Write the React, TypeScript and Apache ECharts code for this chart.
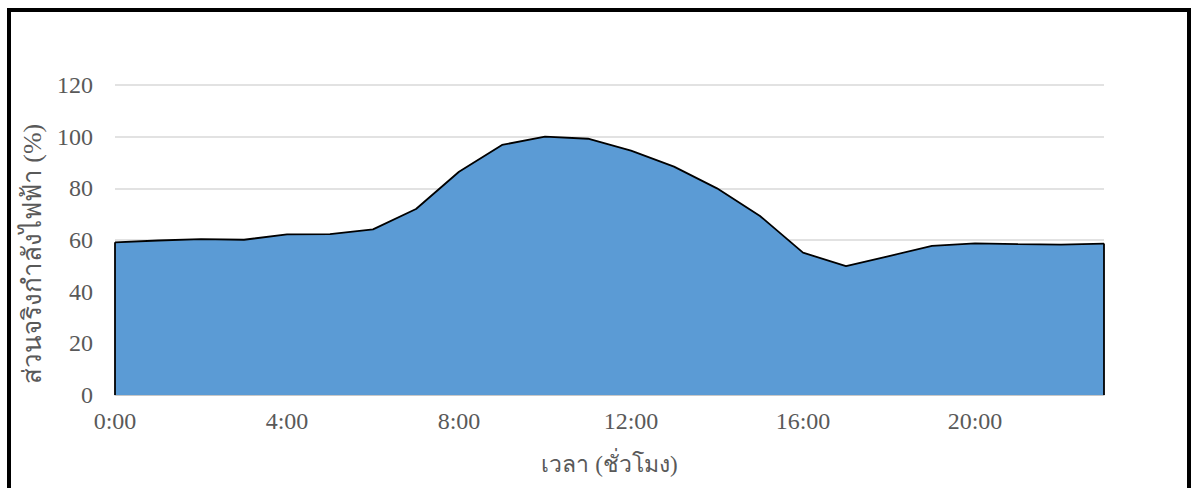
import React, { useEffect, useRef } from "react";
import * as echarts from "echarts";

// Hourly time labels along the x axis
const hours: string[] = [
  "0:00", "1:00", "2:00", "3:00", "4:00", "5:00", "6:00", "7:00",
  "8:00", "9:00", "10:00", "11:00", "12:00", "13:00", "14:00", "15:00",
  "16:00", "17:00", "18:00", "19:00", "20:00", "21:00", "22:00", "23:00",
];

// Real power share per hour (%)
const realPower: number[] = [
  59.1, 59.8, 60.3, 60.1, 62.2, 62.3, 64.1, 72.0,
  86.4, 96.8, 100.0, 99.2, 94.6, 88.4, 80.0, 69.3,
  55.1, 49.9, 53.8, 57.7, 58.7, 58.4, 58.2, 58.6,
];

const yTicks = { min: 0, max: 120, interval: 20 };

const xTitle = "เวลา (ชั่วโมง)";
const yTitle = "ส่วนจริงกำลังไฟฟ้า (%)";

const FONT = "'Liberation Serif', 'Times New Roman', serif";
const LABEL_COLOR = "#595959";

export default function App() {
  const ref = useRef<HTMLDivElement>(null);

  useEffect(() => {
    if (!ref.current) return;
    const chart = echarts.init(ref.current, undefined, { renderer: "svg" });
    const last = realPower.length - 1;

    chart.setOption({
      animation: false,
      backgroundColor: "#ffffff",
      grid: { left: 115, right: 91, top: 85, bottom: 93, containLabel: false },
      xAxis: {
        type: "category",
        data: hours,
        boundaryGap: false,
        name: xTitle,
        nameLocation: "middle",
        nameGap: 58,
        nameTextStyle: { fontFamily: FONT, fontSize: 23, color: LABEL_COLOR },
        axisLine: { lineStyle: { color: "#bfbfbf", width: 1.5 } },
        axisTick: { show: false },
        axisLabel: {
          interval: 3,
          margin: 14,
          fontFamily: FONT,
          fontSize: 24,
          color: LABEL_COLOR,
        },
        splitLine: { show: false },
      },
      yAxis: {
        type: "value",
        min: yTicks.min,
        max: yTicks.max,
        interval: yTicks.interval,
        name: yTitle,
        nameLocation: "middle",
        nameGap: 70,
        nameTextStyle: {
          fontFamily: FONT,
          fontSize: 26,
          color: LABEL_COLOR,
          padding: [0, 28, 0, 0],
        },
        axisLine: { show: false },
        axisTick: { show: false },
        axisLabel: {
          margin: 22,
          fontFamily: FONT,
          fontSize: 24,
          color: LABEL_COLOR,
        },
        splitLine: { lineStyle: { color: "#d9d9d9", width: 1.5 } },
      },
      series: [
        {
          type: "line",
          data: realPower,
          symbol: "none",
          lineStyle: { color: "#000000", width: 1.8 },
          areaStyle: { color: "#5b9bd5", opacity: 1 },
          z: 3,
          markLine: {
            silent: true,
            symbol: "none",
            label: { show: false },
            lineStyle: { color: "#000000", width: 1.8, type: "solid" },
            data: [
              [{ coord: [hours[0], 0] }, { coord: [hours[0], realPower[0]] }],
              [{ coord: [hours[last], 0] }, { coord: [hours[last], realPower[last]] }],
            ],
          },
        },
      ],
      graphic: [
        {
          type: "rect",
          shape: { x: 9, y: 10, width: 1180, height: 500 },
          style: { fill: "none", stroke: "#000000", lineWidth: 4 },
          silent: true,
          z: 100,
        },
      ],
    });

    return () => chart.dispose();
  }, []);

  return (
    <div
      ref={ref}
      style={{ position: "fixed", left: 0, top: 0, width: 1195, height: 488 }}
    />
  );
}
